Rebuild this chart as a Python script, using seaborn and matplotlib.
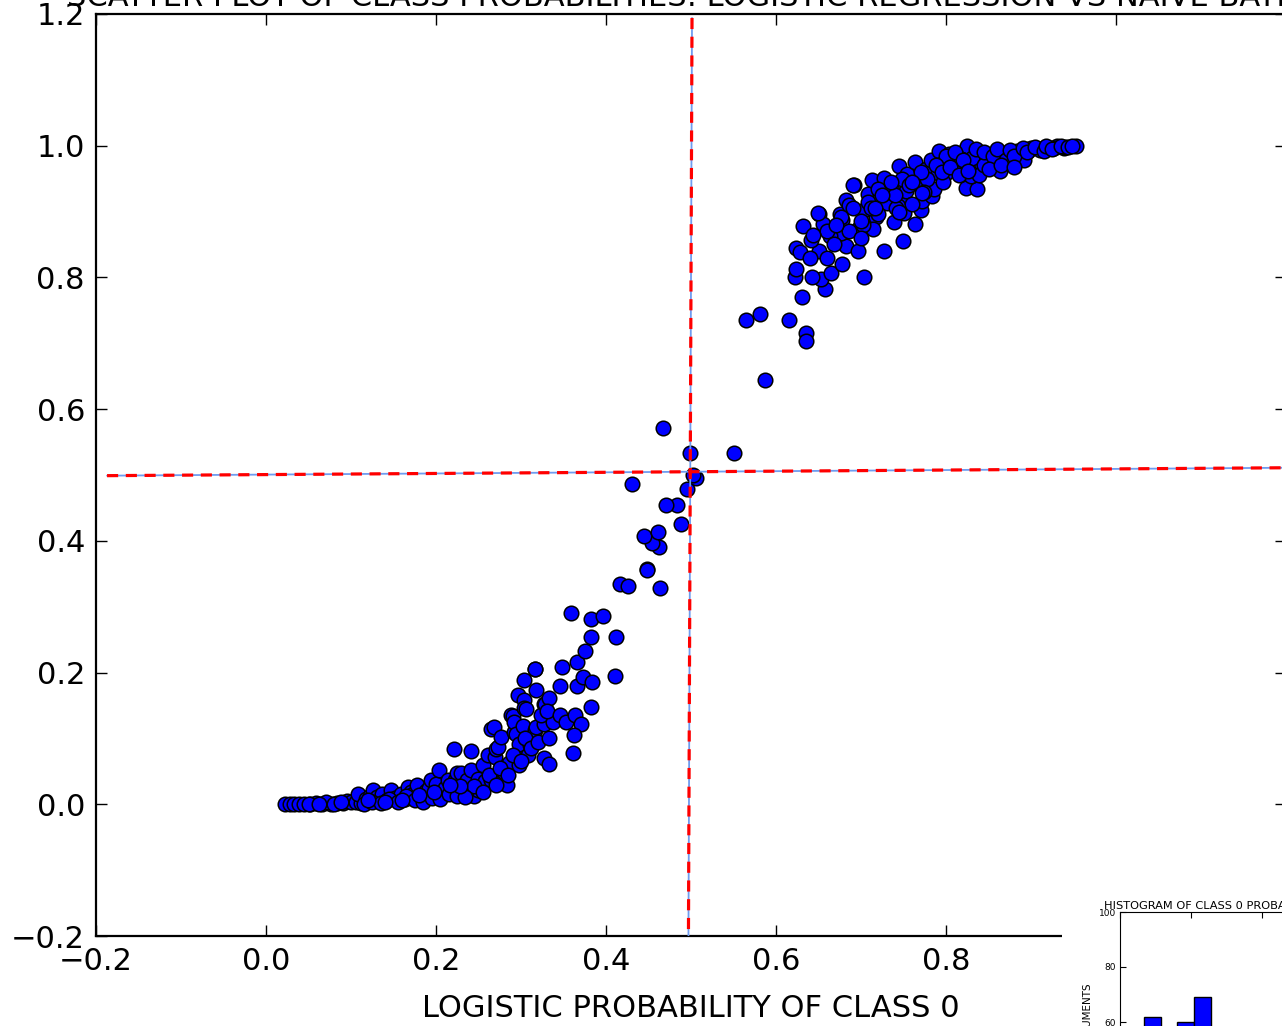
import matplotlib
matplotlib.use('Agg')
import matplotlib.pyplot as plt
import seaborn as sns
import numpy as np

sns.set_style("ticks")
plt.rcParams['font.family'] = ['DejaVu Sans']
plt.rcParams['lines.scale_dashes'] = False
plt.rcParams['text.color'] = 'black'
plt.rcParams['axes.labelcolor'] = 'black'
plt.rcParams['xtick.color'] = 'black'
plt.rcParams['ytick.color'] = 'black'

# ============ DATA ============

# class 0 probability: logistic (x) vs naive bayes (y)
prob_logistic = [
    # low tail
    0.022, 0.028, 0.033, 0.039, 0.045, 0.052, 0.059, 0.066, 0.076, 0.083,
    0.090, 0.095, 0.100, 0.106, 0.112, 0.108, 0.118, 0.122, 0.126, 0.131,
    0.137, 0.142, 0.147, 0.152, 0.159, 0.163, 0.167, 0.171, 0.173, 0.178,
    0.183, 0.188, 0.192, 0.194, 0.200, 0.204, 0.208, 0.210, 0.214, 0.220,
    0.222, 0.225, 0.221, 0.229, 0.233, 0.237, 0.241, 0.241, 0.245, 0.249,
    0.249, 0.255, 0.258, 0.261, 0.265, 0.265, 0.268, 0.269, 0.271, 0.273,
    0.276, 0.280, 0.283, 0.286, 0.288, 0.290, 0.292, 0.292, 0.294, 0.296,
    0.296, 0.298, 0.298, 0.302, 0.303, 0.303, 0.304, 0.306, 0.308, 0.310,
    0.316, 0.316, 0.318, 0.318, 0.327, 0.327, 0.327,
    0.115, 0.125, 0.135, 0.145, 0.155, 0.165, 0.175, 0.185, 0.195, 0.205,
    0.215, 0.225, 0.235, 0.245, 0.255, 0.262, 0.270, 0.275, 0.285, 0.290,
    0.300, 0.305, 0.312, 0.320, 0.323, 0.333, 0.338, 0.234, 0.228, 0.216,
    0.198, 0.180, 0.160, 0.140, 0.120, 0.070, 0.080, 0.050, 0.062, 0.088,
    # middle
    0.328, 0.333, 0.331, 0.346, 0.353, 0.363, 0.371, 0.362, 0.361, 0.333,
    0.382, 0.346, 0.366, 0.373, 0.384, 0.410, 0.348, 0.316, 0.366, 0.375,
    0.382, 0.412, 0.359, 0.382, 0.397, 0.416, 0.426, 0.463, 0.448, 0.448,
    0.462, 0.454, 0.445, 0.461, 0.488, 0.484, 0.470, 0.431, 0.495, 0.506,
    0.502, 0.499, 0.467, 0.551,
    # transition
    0.587, 0.565, 0.581, 0.615, 0.635, 0.635,
    # upper cluster
    0.631, 0.658, 0.653, 0.642, 0.665, 0.678, 0.703, 0.622, 0.623, 0.624,
    0.628, 0.651, 0.641, 0.682, 0.696, 0.727, 0.749, 0.676, 0.664, 0.632,
    0.651, 0.655, 0.675, 0.678, 0.696, 0.686, 0.704, 0.682, 0.692, 0.686,
    0.708, 0.713, 0.727, 0.722, 0.718, 0.714, 0.731, 0.739, 0.737, 0.747,
    0.745, 0.754, 0.753, 0.763, 0.765, 0.763, 0.751, 0.771, 0.772, 0.784,
    0.786, 0.776, 0.782, 0.792, 0.790, 0.804, 0.810, 0.818, 0.824, 0.837,
    0.829, 0.831, 0.841, 0.847, 0.857, 0.863, 0.869, 0.884, 0.892, 0.900,
    0.912, 0.922, 0.931, 0.939, 0.953, 0.796, 0.800, 0.818, 0.825,
    0.649, 0.676, 0.690, 0.702, 0.720, 0.733, 0.744, 0.748, 0.756, 0.760,
    0.741, 0.767, 0.778, 0.774, 0.770, 0.796, 0.818, 0.839, 0.831, 0.845,
    0.861, 0.877, 0.897, 0.910, 0.927, 0.940,
    # top band
    0.800, 0.810, 0.820, 0.835, 0.845, 0.855, 0.860, 0.870, 0.875, 0.880,
    0.890, 0.895, 0.905, 0.915, 0.918, 0.925, 0.935, 0.943, 0.948, 0.788,
    0.795, 0.805, 0.815, 0.826, 0.850, 0.865, 0.880, 0.708, 0.720, 0.740,
    0.760, 0.700, 0.745, 0.735, 0.772, 0.700, 0.712, 0.690, 0.660, 0.668,
    0.640, 0.660, 0.644, 0.670, 0.716, 0.725,
]
prob_nb = [
    # low tail
    0.000, 0.000, 0.000, 0.001, 0.000, 0.001, 0.002, 0.001, 0.000, 0.002,
    0.002, 0.005, 0.004, 0.003, 0.002, 0.016, 0.008, 0.012, 0.021, 0.011,
    0.015, 0.006, 0.022, 0.010, 0.016, 0.008, 0.026, 0.019, 0.016, 0.029,
    0.012, 0.020, 0.025, 0.037, 0.031, 0.052, 0.015, 0.024, 0.037, 0.021,
    0.037, 0.047, 0.084, 0.047, 0.030, 0.037, 0.081, 0.052, 0.012, 0.021,
    0.039, 0.060, 0.035, 0.075, 0.037, 0.115, 0.117, 0.072, 0.084, 0.087,
    0.102, 0.049, 0.030, 0.062, 0.135, 0.134, 0.110, 0.125, 0.107, 0.072,
    0.166, 0.092, 0.059, 0.119, 0.189, 0.159, 0.146, 0.144, 0.075, 0.090,
    0.113, 0.205, 0.174, 0.117, 0.153, 0.122, 0.070,
    0.000, 0.004, 0.002, 0.008, 0.003, 0.012, 0.006, 0.004, 0.010, 0.008,
    0.015, 0.012, 0.020, 0.028, 0.018, 0.045, 0.030, 0.055, 0.045, 0.075,
    0.065, 0.100, 0.085, 0.095, 0.135, 0.100, 0.125, 0.011, 0.028, 0.030,
    0.018, 0.014, 0.006, 0.004, 0.006, 0.003, 0.001, 0.000, 0.000, 0.004,
    # middle
    0.153, 0.162, 0.142, 0.135, 0.125, 0.135, 0.122, 0.105, 0.078, 0.061,
    0.148, 0.179, 0.179, 0.193, 0.186, 0.195, 0.209, 0.205, 0.216, 0.233,
    0.254, 0.254, 0.291, 0.282, 0.286, 0.335, 0.332, 0.329, 0.358, 0.355,
    0.390, 0.396, 0.407, 0.414, 0.425, 0.455, 0.455, 0.487, 0.478, 0.495,
    0.500, 0.534, 0.571, 0.534,
    # transition
    0.645, 0.735, 0.745, 0.735, 0.716, 0.703,
    # upper cluster
    0.770, 0.782, 0.797, 0.800, 0.807, 0.821, 0.800, 0.801, 0.813, 0.845,
    0.838, 0.840, 0.857, 0.848, 0.840, 0.840, 0.855, 0.868, 0.863, 0.878,
    0.897, 0.881, 0.896, 0.887, 0.873, 0.870, 0.903, 0.917, 0.940, 0.910,
    0.926, 0.948, 0.951, 0.923, 0.892, 0.873, 0.913, 0.884, 0.933, 0.918,
    0.969, 0.957, 0.931, 0.975, 0.944, 0.881, 0.898, 0.903, 0.916, 0.923,
    0.934, 0.964, 0.979, 0.992, 0.959, 0.987, 0.974, 0.965, 0.936, 0.934,
    0.954, 0.992, 0.974, 0.984, 0.972, 0.961, 0.989, 0.992, 0.979, 0.997,
    0.995, 0.997, 1.000, 0.996, 0.999, 0.974, 0.959, 0.989, 1.000,
    0.898, 0.891, 0.941, 0.880, 0.896, 0.930, 0.908, 0.950, 0.940, 0.912,
    0.905, 0.944, 0.950, 0.930, 0.960, 0.945, 0.980, 0.955, 0.981, 0.970,
    0.985, 0.988, 0.992, 0.994, 0.996, 0.998,
    # top band
    0.985, 0.990, 0.978, 0.995, 0.990, 0.985, 0.995, 0.978, 0.993, 0.985,
    0.997, 0.990, 0.998, 0.992, 0.999, 0.995, 0.999, 0.998, 1.000, 0.970,
    0.960, 0.968, 0.955, 0.962, 0.965, 0.970, 0.968, 0.915, 0.935, 0.925,
    0.945, 0.885, 0.900, 0.945, 0.928, 0.860, 0.905, 0.905, 0.870, 0.850,
    0.830, 0.830, 0.865, 0.880, 0.905, 0.925,
]

# decision thresholds (slightly tilted as drawn in the original)
vline_x = [0.5012, 0.4970]
vline_y = [1.194, -0.2]
hline_x = [-0.187, 1.2]
hline_y = [0.499, 0.511]

# histogram of logistic class 0 probabilities (20 bins)
hist_edges = list(np.linspace(0.022, 0.955, 21))
hist_counts = [45, 62, 55, 60, 69, 50, 38, 30, 22, 16,
               12, 9, 8, 10, 14, 20, 28, 40, 55, 75]

main_ticks = [-0.2, 0.0, 0.2, 0.4, 0.6, 0.8, 1.0, 1.2]

# ============ FIGURE ============

W, H = 1282, 1026
fig = plt.figure(figsize=(W / 100, H / 100), dpi=100)
fig.patch.set_facecolor('white')

ax = fig.add_axes([96 / W, (H - 936) / H, (1286 - 96) / W, (936 - 14) / H])
sns.scatterplot(x=prob_logistic, y=prob_nb, ax=ax, color='blue',
                edgecolor='black', linewidth=1.1, s=110, legend=False, zorder=2)

for lx, ly in [(vline_x, vline_y), (hline_x, hline_y)]:
    ax.plot(lx, ly, color='#6f9cf0', linewidth=1.3, zorder=3)
    ax.plot(lx, ly, color='red', linewidth=2.3, dashes=(8, 5.5), zorder=4)

ax.set_xlim(-0.2, 1.2)
ax.set_ylim(-0.2, 1.2)
ax.set_xticks(main_ticks)
ax.set_yticks(main_ticks)
ax.tick_params(direction='in', length=8, width=1, labelsize=22, pad=8,
               top=True, right=True, colors='black')
for sp in ax.spines.values():
    sp.set_linewidth(1.6)
    sp.set_color('black')
ax.set_xlabel('LOGISTIC PROBABILITY OF CLASS 0', fontsize=22, labelpad=13)

# title sits mostly above the visible area, only its lower edge shows
fig.text(691 / W, 1 - 6 / H,
         'SCATTER PLOT OF CLASS PROBABILITIES: LOGISTIC REGRESSION VS NAIVE BAYES',
         ha='center', va='baseline', fontsize=22)

# opaque patch behind the inset (covers the main axes corner)
ax_bg = fig.add_axes([1062 / W, 0, (W - 1062) / W, (H - 892) / H])
ax_bg.set_facecolor('white')
ax_bg.set_xticks([])
ax_bg.set_yticks([])
for sp in ax_bg.spines.values():
    sp.set_visible(False)
ax_bg.set_zorder(3)

# inset histogram
ax_in = fig.add_axes([1120 / W, (H - 1187) / H, 355 / W, 275 / H])
centers = [(hist_edges[i] + hist_edges[i + 1]) / 2 for i in range(20)]
sns.histplot(x=centers, weights=hist_counts, bins=hist_edges, ax=ax_in,
             color='blue', edgecolor='black', linewidth=1, alpha=1)
ax_in.set_xlim(0, 1)
ax_in.set_ylim(0, 100)
ax_in.set_xticks([0.0, 0.2, 0.4, 0.6, 0.8, 1.0])
ax_in.set_yticks([0, 20, 40, 60, 80, 100])
ax_in.tick_params(direction='in', length=4, width=0.8, labelsize=6.5, pad=3,
                  top=True, right=True)
for sp in ax_in.spines.values():
    sp.set_linewidth(0.8)
    sp.set_color('black')
ax_in.set_ylabel('NUMBER OF DOCUMENTS', fontsize=7.5, labelpad=4)
ax_in.set_xlabel('')
ax_in.set_title('HISTOGRAM OF CLASS 0 PROBABILITIES FOR LOGISTIC REGRESSION',
                fontsize=8.2, pad=2)
ax_in.set_zorder(4)

fig.savefig('out.png', dpi=100)
plt.close(fig)
